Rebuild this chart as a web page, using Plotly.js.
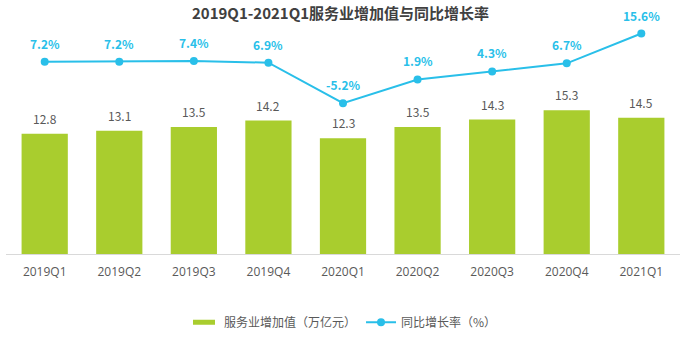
<!DOCTYPE html>
<html>
<head>
<meta charset="utf-8">
<script src="https://cdn.plot.ly/plotly-3.0.1.min.js"></script>
<style>html,body{margin:0;padding:0;background:#fff;}#chart{width:688px;height:337px;}</style>
</head>
<body>
<div id="chart"></div>
<script>
const categories = ["2019Q1","2019Q2","2019Q3","2019Q4","2020Q1","2020Q2","2020Q3","2020Q4","2021Q1"];
const valueAdded = [12.8, 13.1, 13.5, 14.2, 12.3, 13.5, 14.3, 15.3, 14.5];
const growthRate = [7.2, 7.2, 7.4, 6.9, -5.2, 1.9, 4.3, 6.7, 15.6];
const barName = "服务业增加值（万亿元）";
const lineName = "同比增长率（%）";

const font = "'Noto Sans CJK SC', 'Open Sans', sans-serif";
const tickFontFamily = "'Open Sans', 'Noto Sans', sans-serif";
const barColor = "#a9cd2e";
const lineColor = "#29bfe9";

const traces = [
  {
    type: "bar", x: categories, y: valueAdded, name: barName,
    marker: {color: barColor}, hoverinfo: "skip"
  },
  {
    type: "scatter", mode: "lines+markers", x: categories, y: growthRate, name: lineName,
    yaxis: "y2", line: {color: lineColor, width: 2}, marker: {color: lineColor, size: 8},
    cliponaxis: false, hoverinfo: "skip"
  }
];

const annotations = [];
categories.forEach((c, i) => {
  annotations.push({
    x: c, y: valueAdded[i], xref: "x", yref: "y", text: valueAdded[i].toFixed(1),
    showarrow: false, yanchor: "bottom", yshift: 5,
    font: {family: font, size: 12, color: "#595959"}
  });
  annotations.push({
    x: c, y: growthRate[i], xref: "x", yref: "y2", text: growthRate[i].toFixed(1) + "%",
    showarrow: false, yanchor: "bottom", yshift: 8,
    font: {family: font, size: 12, color: lineColor, weight: "bold"}
  });
});

const layout = {
  width: 688, height: 337,
  margin: {l: 6, r: 8, t: 25, b: 83, autoexpand: false},
  paper_bgcolor: "#fff", plot_bgcolor: "#fff",
  title: {
    text: "<b>2019Q1-2021Q1服务业增加值与同比增长率</b>",
    x: 0.495, xanchor: "center", y: 0.958, yanchor: "middle",
    font: {family: font, size: 15, color: "#404040"}
  },
  bargap: 0.38,
  xaxis: {
    type: "category", showline: true, linecolor: "#d9d9d9", linewidth: 1,
    ticks: "outside", ticklen: 7, tickcolor: "rgba(0,0,0,0)",
    tickfont: {family: tickFontFamily, size: 12, color: "#595959"},
    showgrid: false, zeroline: false, fixedrange: true
  },
  yaxis: {
    range: [0, 24.36], visible: false, showgrid: false, zeroline: false, fixedrange: true
  },
  yaxis2: {
    range: [-50.2, 18.15], overlaying: "y", side: "right", visible: false,
    showgrid: false, zeroline: false, fixedrange: true
  },
  showlegend: true,
  legend: {
    orientation: "h", x: 0.5, xanchor: "center", y: -0.235, yanchor: "top",
    font: {family: font, size: 12, color: "#595959"}, itemwidth: 30,
    traceorder: "normal"
  },
  annotations: annotations
};

Plotly.newPlot("chart", traces, layout, {displayModeBar: false, staticPlot: true}).then(gd => {
  // widen the bar legend swatch into a flat bar like the reference
  gd.querySelectorAll(".legend .traces").forEach((t, idx) => {
    if (idx === 0) {
      t.querySelectorAll(".legendpoints path").forEach(p => p.setAttribute("d", "M11,2.5H-11V-2.5H11Z"));
    }
  });
});
</script>
</body>
</html>
